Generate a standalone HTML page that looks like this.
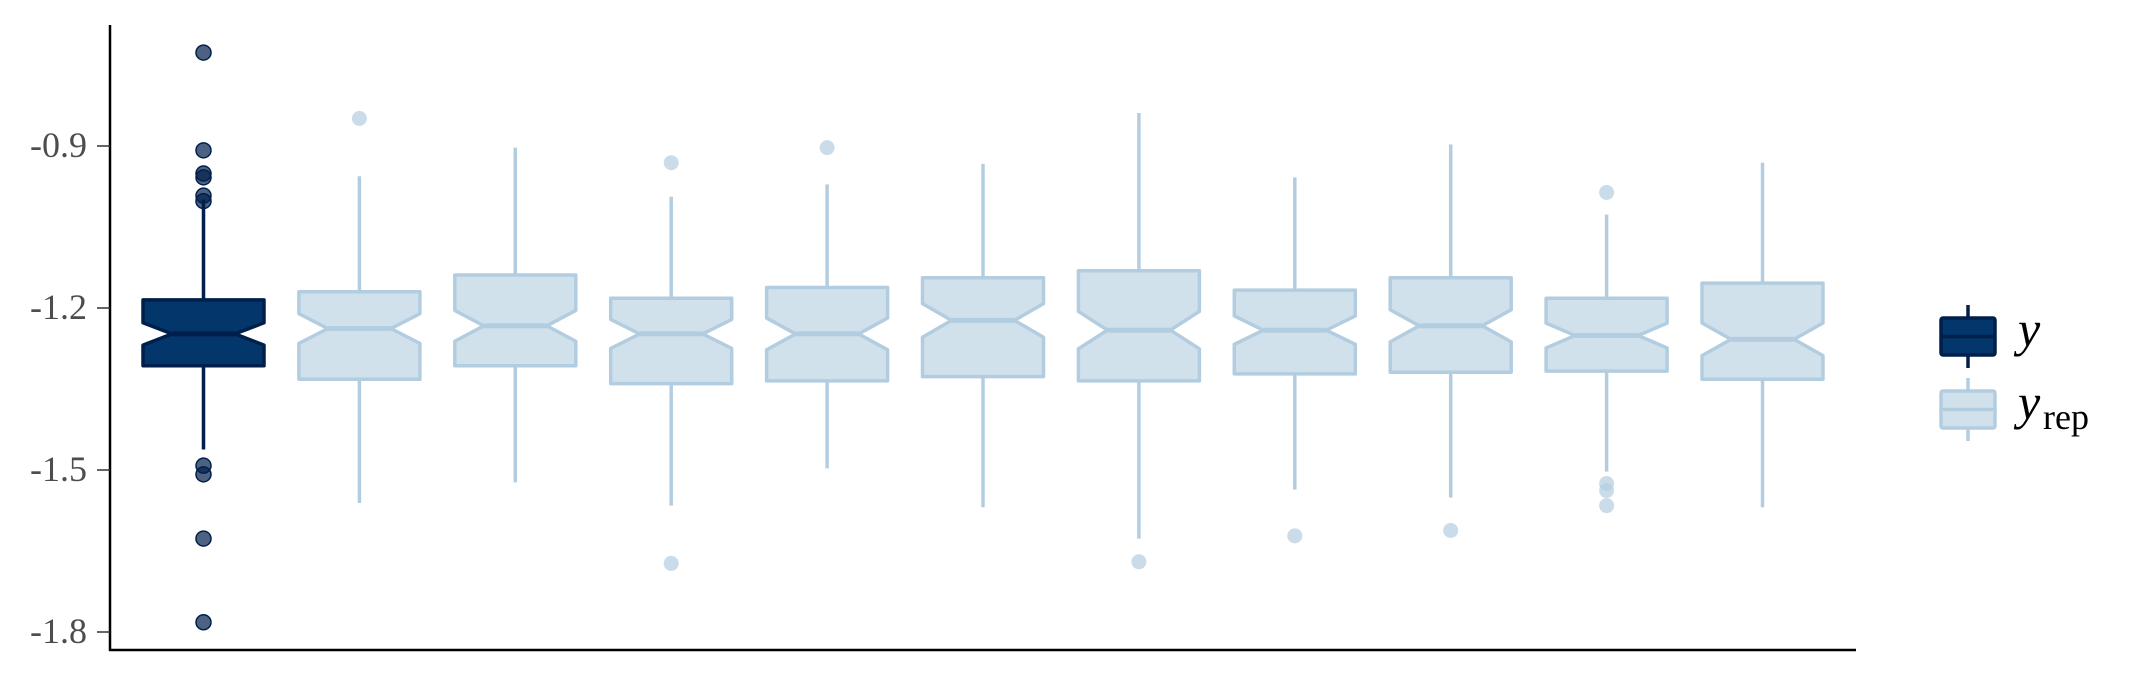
<!DOCTYPE html>
<html><head><meta charset="utf-8"><style>
body{margin:0;background:#fff}
svg{display:block}
text{font-family:"Liberation Serif",serif}
</style></head><body>
<svg id="c" width="2156" height="690"></svg>
<script>
const seriesNames=["y","rep1","rep2","rep3","rep4","rep5","rep6","rep7","rep8","rep9","rep10"];
const q1=[-1.307,-1.332,-1.307,-1.340,-1.335,-1.327,-1.335,-1.322,-1.319,-1.317,-1.332];
const q3=[-1.185,-1.170,-1.139,-1.182,-1.162,-1.144,-1.131,-1.167,-1.144,-1.182,-1.154];
const medians=[-1.248,-1.238,-1.233,-1.248,-1.248,-1.223,-1.241,-1.241,-1.233,-1.251,-1.258];
const whiskerHi=[-0.999,-0.956,-0.903,-0.994,-0.971,-0.933,-0.839,-0.958,-0.897,-1.027,-0.931];
const whiskerLo=[-1.462,-1.561,-1.523,-1.566,-1.497,-1.569,-1.627,-1.536,-1.551,-1.503,-1.569];
const outliers=[[-0.727,-0.908,-0.951,-0.958,-0.992,-1.002,-1.492,-1.508,-1.627,-1.782],[-0.849],[],[-0.931,-1.673],[-0.903],[],[-1.670],[-1.622],[-1.612],[-0.986,-1.525,-1.538,-1.566],[]];
const yTicks=[-0.9,-1.2,-1.5,-1.8];
const yTickLabels=["-0.9","-1.2","-1.5","-1.8"];

const NS="http://www.w3.org/2000/svg";
const svg=document.getElementById('c');
function el(t,a,p){const e=document.createElementNS(NS,t);for(const k in a)e.setAttribute(k,a[k]);(p||svg).appendChild(e);return e;}
const yS=v=>146+(-0.9-v)/0.3*162;
const xS=i=>203.5+i*155.9;
const bw=121;

let ax=el('line',{x1:110,y1:25,x2:110,y2:651,stroke:'#000','stroke-width':2.5});


let bx=el('line',{x1:109,y1:650,x2:1856,y2:650,stroke:'#000','stroke-width':2.5});


yTicks.forEach((t,i)=>{
  const y=yS(t);
  const tk=el('line',{x1:97,y1:y,x2:110,y2:y,stroke:'#333','stroke-width':1.5});
  
  
  const tx=el('text',{x:87,y:y+11,'text-anchor':'end','font-size':36,fill:'#4d4d4d'});
  tx.textContent=yTickLabels[i];
  
  
});

seriesNames.forEach((nm,i)=>{
  const dark=i===0;
  const fill=dark?'#03366a':'#d1e1ec', stroke=dark?'#011f4b':'#b3cde0';
  const g=el('g',{});
  
  
  const cx=xS(i);
  el('line',{x1:cx,y1:yS(whiskerHi[i]),x2:cx,y2:yS(q3[i]),stroke:stroke,'stroke-width':3.5},g);
  el('line',{x1:cx,y1:yS(q1[i]),x2:cx,y2:yS(whiskerLo[i]),stroke:stroke,'stroke-width':3.5},g);
  const iqr=q3[i]-q1[i], nd=iqr*0.17;
  const L=cx-bw/2,R=cx+bw/2,ins=bw*0.24;
  const yt=yS(q3[i]),yb=yS(q1[i]),ym=yS(medians[i]),yn1=yS(medians[i]+nd),yn2=yS(medians[i]-nd);
  el('path',{d:`M${L},${yt}H${R}V${yn1}L${R-ins},${ym}L${R},${yn2}V${yb}H${L}V${yn2}L${L+ins},${ym}L${L},${yn1}Z`,fill:fill,stroke:stroke,'stroke-width':3.5,'stroke-linejoin':'round'},g);
  el('line',{x1:L+ins,y1:ym,x2:R-ins,y2:ym,stroke:stroke,'stroke-width':5},g);
  outliers[i].forEach(v=>{
    const c=el('circle',{cx:cx,cy:yS(v),r:7.5,fill:dark?'#011f4b':'#b3cde0','fill-opacity':0.7,stroke:dark?'#011f4b':'none','stroke-width':1.5},g);
    
    
  });
});

function legend(y0,dark,name){
  const g=el('g',{});
  
  
  const fill=dark?'#03366a':'#d1e1ec', stroke=dark?'#011f4b':'#b3cde0';
  el('line',{x1:1968,y1:y0-13,x2:1968,y2:y0+50,stroke:stroke,'stroke-width':3.5},g);
  el('rect',{x:1941,y:y0,width:54,height:37,fill:fill,stroke:stroke,'stroke-width':3.5,rx:2},g);
  el('line',{x1:1941,y1:y0+18.5,x2:1995,y2:y0+18.5,stroke:stroke,'stroke-width':3.5},g);
  return g;
}
const l1=legend(318,true,'legend-entry-y');
const t1=el('text',{x:2018,y:346,'font-size':50,'font-style':'italic',fill:'#000'},l1);t1.textContent='y';
const l2=legend(391,false,'legend-entry-yrep');
const t2=el('text',{x:2018,y:419,'font-size':50,'font-style':'italic',fill:'#000'},l2);t2.textContent='y';
const t3=el('text',{x:2043,y:429,'font-size':36,fill:'#000'},l2);t3.textContent='rep';
</script>
</body></html>
